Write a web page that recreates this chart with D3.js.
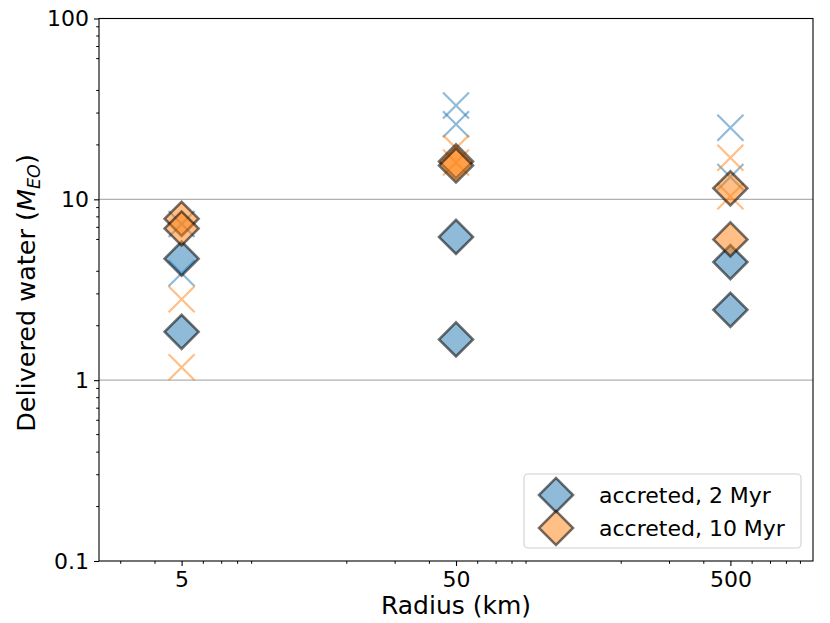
<!DOCTYPE html>
<html>
<head>
<meta charset="utf-8">
<script src="https://cdn.jsdelivr.net/npm/d3@7"></script>
<style>
  body { margin: 0; background: #fff; }
  text { font-family: "DejaVu Sans", sans-serif; fill: #000; }
</style>
</head>
<body>
<div id="chart"></div>
<script>
// values, one entry per radius
var radiusKm = [5, 50, 500];
var accreted2MyrA = [4.7, 6.2, 4.5];
var accreted2MyrB = [1.85, 1.68, 2.45];
var accreted10MyrA = [7.8, 16.2, 11.5];
var accreted10MyrB = [6.9, 15.4, 6.0];
var other2MyrA = [7.3, 33, 24.9];
var other2MyrB = [3.9, 26, 13.3];
var other10MyrA = [2.8, 19.2, 17.0];
var other10MyrB = [1.18, 16.0, 10.4];

var xTicks = [5, 50, 500];
var xTickLabels = ["5", "50", "500"];
var yTicks = [0.1, 1, 10, 100];
var yTickLabels = ["0.1", "1", "10", "100"];
var legendLabels = ["accreted, 2 Myr", "accreted, 10 Myr"];

var blue = "#1f77b4";
var orange = "#ff7f0e";

var width = 830;
var height = 623;
var margin = {left: 99, right: 17, top: 18.5, bottom: 62};

var x = d3.scaleLog()
    .domain([2.5, 1000])
    .range([margin.left, width - margin.right]);

var y = d3.scaleLog()
    .domain([0.1, 100])
    .range([height - margin.bottom, margin.top]);

var svg = d3.select('#chart')
    .append('svg')
    .attr('width', width)
    .attr('height', height);

svg.append('rect')
    .attr('width', width)
    .attr('height', height)
    .attr('fill', '#fff');

// minor ticks: 2..9 in each decade, but not at the decades themselves
function minors(lo, hi) {
  var out = [];
  for (var p = -2; p <= 3; p++) {
    for (var m = 2; m <= 9; m++) {
      var v = m * Math.pow(10, p);
      if (v > lo && v < hi && xTicks.indexOf(v) < 0) out.push(+v.toPrecision(3));
    }
  }
  return out;
}

// grid at the major y ticks
svg.append('g')
    .selectAll('line')
    .data(yTicks.slice(1, -1))
    .enter().append('line')
    .attr('x1', margin.left)
    .attr('x2', width - margin.right)
    .attr('y1', d => y(d))
    .attr('y2', d => y(d))
    .style('stroke', '#b0b0b0')
    .style('stroke-width', '1.1px');

// markers
var cross = d3.symbol().type(d3.symbolTimes).size(443);
var diamond = d3.symbol().type(d3.symbolSquare).size(578);

var layers = [
  {vals: [other2MyrA, other2MyrB], color: blue, kind: 'x'},
  {vals: [accreted2MyrA, accreted2MyrB], color: blue, kind: 'd'},
  {vals: [other10MyrA, other10MyrB], color: orange, kind: 'x'},
  {vals: [accreted10MyrA, accreted10MyrB], color: orange, kind: 'd'}
];

layers.forEach(function (layer) {
  var pts = [];
  layer.vals.forEach(function (arr) {
    arr.forEach(function (v, i) { pts.push({r: radiusKm[i], v: v}); });
  });
  var g = svg.append('g');
  if (layer.kind === 'x') {
    g.selectAll('path')
        .data(pts)
        .enter().append('path')
        .attr('d', cross)
        .attr('transform', d => 'translate(' + x(d.r) + ',' + y(d.v) + ')')
        .style('fill', 'none')
        .style('stroke', layer.color)
        .style('stroke-opacity', 0.5)
        .style('stroke-width', '2.2px');
  } else {
    g.selectAll('path')
        .data(pts)
        .enter().append('path')
        .attr('d', diamond)
        .attr('transform', d => 'translate(' + x(d.r) + ',' + y(d.v) + ') rotate(45)')
        .style('fill', layer.color)
        .style('fill-opacity', 0.5)
        .style('stroke', '#000')
        .style('stroke-opacity', 0.55)
        .style('stroke-width', '2.6px');
  }
});

// axes
var xAxis = svg.append('g')
    .attr('transform', 'translate(0,' + (height - margin.bottom) + ')')
    .call(d3.axisBottom(x).tickValues(xTicks).tickFormat((d, i) => xTickLabels[i])
        .tickSize(5).tickPadding(5).tickSizeOuter(0));
xAxis.append('g')
    .selectAll('line')
    .data(minors(2.5, 1000))
    .enter().append('line')
    .attr('x1', d => x(d))
    .attr('x2', d => x(d))
    .attr('y2', 2.8)
    .style('stroke', '#000');

var yAxis = svg.append('g')
    .attr('transform', 'translate(' + margin.left + ',0)')
    .call(d3.axisLeft(y).tickValues(yTicks).tickFormat((d, i) => yTickLabels[i])
        .tickSize(5).tickPadding(5).tickSizeOuter(0));
yAxis.append('g')
    .selectAll('line')
    .data(minors(0.1, 100).filter(d => [0.1, 1, 10, 100].indexOf(d) < 0))
    .enter().append('line')
    .attr('y1', d => y(d))
    .attr('y2', d => y(d))
    .attr('x2', -2.8)
    .style('stroke', '#000');

svg.selectAll('.domain').remove();
svg.selectAll('.tick line').style('stroke', '#000').style('stroke-width', '1.1px');
svg.selectAll('.tick text')
    .style('font-family', '"DejaVu Sans", sans-serif')
    .style('font-size', '22px');

// frame
svg.append('rect')
    .attr('x', margin.left)
    .attr('y', margin.top)
    .attr('width', width - margin.left - margin.right)
    .attr('height', height - margin.top - margin.bottom)
    .style('fill', 'none')
    .style('stroke', '#000')
    .style('stroke-width', '1.1px');

// axis labels
svg.append('text')
    .attr('x', (margin.left + width - margin.right) / 2)
    .attr('y', 614)
    .style('text-anchor', 'middle')
    .style('font-size', '25px')
    .text('Radius (km)');

var ylab = svg.append('text')
    .attr('transform', 'translate(35,293) rotate(-90)')
    .style('text-anchor', 'middle')
    .style('font-size', '25.5px');
ylab.append('tspan').text('Delivered water (');
ylab.append('tspan').style('font-style', 'italic').text('M');
ylab.append('tspan').attr('dy', 5).style('font-size', '17.5px').style('font-style', 'italic').text('EO');
ylab.append('tspan').attr('dy', -5).text(')');

// legend
var legend = svg.append('g');
legend.append('rect')
    .attr('x', 524)
    .attr('y', 474)
    .attr('width', 277)
    .attr('height', 74)
    .attr('rx', 4)
    .style('fill', '#fff')
    .style('fill-opacity', 0.8)
    .style('stroke', '#d0d0d0')
    .style('stroke-width', '1.1px');

var items = legend.selectAll('.item')
    .data(legendLabels)
    .enter().append('g')
    .attr('class', 'item')
    .attr('transform', (d, i) => 'translate(556,' + (495 + i * 33) + ')');

items.append('path')
    .attr('d', diamond)
    .attr('transform', 'rotate(45)')
    .style('fill', (d, i) => i === 0 ? blue : orange)
    .style('fill-opacity', 0.5)
    .style('stroke', '#000')
    .style('stroke-opacity', 0.55)
    .style('stroke-width', '2.6px');

items.append('text')
    .attr('x', 43)
    .attr('y', 8)
    .style('font-size', '22px')
    .text(d => d);
</script>
</body>
</html>
